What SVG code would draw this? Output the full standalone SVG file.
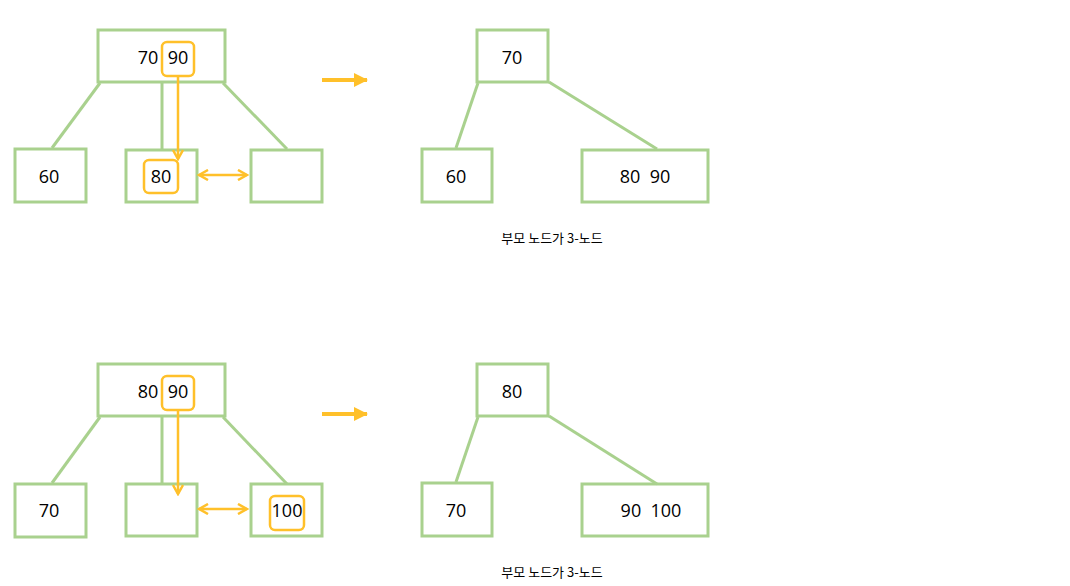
<svg xmlns="http://www.w3.org/2000/svg" width="1070" height="586" viewBox="0 0 1070 586">
<style>
.n{fill:#fff;stroke:#A9D18E;stroke-width:3}
.e{stroke:#A9D18E;stroke-width:3;fill:none}
.h{fill:none;stroke:#FFC02A;stroke-width:2.5}
.o{stroke:#FFC02A;stroke-width:2.5;fill:none}
.t{font-family:"Open Sans","Liberation Sans",sans-serif;font-size:18px;fill:#000;text-anchor:middle}
.c{font-family:"Noto Sans CJK KR","Noto Sans",sans-serif;font-size:13px;fill:#000;text-anchor:middle}
</style>
<defs>
<marker id="a" markerWidth="12" markerHeight="12" refX="10" refY="6" orient="auto" markerUnits="userSpaceOnUse"><path d="M1,1 L10,6 L1,11" fill="none" stroke="#FFC02A" stroke-width="2.5"/></marker>
<marker id="as" markerWidth="12" markerHeight="12" refX="2" refY="6" orient="auto" markerUnits="userSpaceOnUse"><path d="M11,1 L2,6 L11,11" fill="none" stroke="#FFC02A" stroke-width="2.5"/></marker>
<marker id="big" markerWidth="14" markerHeight="14" refX="13" refY="7" orient="auto" markerUnits="userSpaceOnUse"><path d="M0,0 L14,7 L0,14 Z" fill="#FFC02A"/></marker>
</defs>

<g id="top-root"><rect class="n" x="98" y="30" width="127" height="52"/><text class="t" x="148" y="64">70</text><rect class="h" x="162" y="42" width="32" height="34" rx="5"/><text class="t" x="178" y="64">90</text></g>
<g id="top-left"><rect class="n" x="15" y="149" width="71" height="53"/><text class="t" x="49" y="183">60</text></g>
<g id="top-mid"><rect class="n" x="126" y="150" width="71" height="52"/><rect class="h" x="144" y="160" width="34" height="33" rx="5"/><text class="t" x="161" y="183">80</text></g>
<g id="top-right"><rect class="n" x="251" y="150" width="71" height="52"/></g>
<g id="top-res-root"><rect class="n" x="477" y="30" width="71" height="52"/><text class="t" x="512" y="64">70</text></g>
<g id="top-res-left"><rect class="n" x="422" y="149" width="70" height="53"/><text class="t" x="456" y="183">60</text></g>
<g id="top-res-right"><rect class="n" x="582" y="150" width="126" height="52"/><text class="t" x="645" y="183" xml:space="preserve">80  90</text></g>
<text class="c" x="552" y="243">부모 노드가 3-노드</text>

<g id="bot-root"><rect class="n" x="98" y="364" width="127" height="52"/><text class="t" x="148" y="398">80</text><rect class="h" x="162" y="376" width="32" height="34" rx="5"/><text class="t" x="178" y="398">90</text></g>
<g id="bot-left"><rect class="n" x="15" y="484" width="71" height="53"/><text class="t" x="49" y="517">70</text></g>
<g id="bot-mid"><rect class="n" x="126" y="484" width="71" height="52"/></g>
<g id="bot-right"><rect class="n" x="251" y="484" width="71" height="52"/><rect class="h" x="270" y="496" width="34" height="34" rx="5"/><text class="t" x="287" y="517">100</text></g>
<g id="bot-res-root"><rect class="n" x="477" y="364" width="71" height="52"/><text class="t" x="512" y="398">80</text></g>
<g id="bot-res-left"><rect class="n" x="422" y="483" width="70" height="53"/><text class="t" x="456" y="517">70</text></g>
<g id="bot-res-right"><rect class="n" x="582" y="484" width="126" height="52"/><text class="t" x="651" y="517" xml:space="preserve">90  100</text></g>
<text class="c" x="552" y="577">부모 노드가 3-노드</text>

<g id="connectors">
<line class="e" x1="100" y1="83" x2="52" y2="148"/>
<line class="e" x1="162" y1="83" x2="162" y2="149"/>
<line class="e" x1="223" y1="83" x2="287" y2="149"/>
<line class="e" x1="478" y1="83" x2="456" y2="148"/>
<line class="e" x1="549" y1="82" x2="657" y2="149"/>
<line class="e" x1="100" y1="417" x2="52" y2="483"/>
<line class="e" x1="162" y1="417" x2="162" y2="484"/>
<line class="e" x1="223" y1="417" x2="287" y2="484"/>
<line class="e" x1="478" y1="417" x2="456" y2="482"/>
<line class="e" x1="549" y1="416" x2="657" y2="484"/>
<line class="o" x1="178" y1="76" x2="178" y2="159" marker-end="url(#a)"/>
<line class="o" x1="199" y1="175" x2="247" y2="175" marker-start="url(#as)" marker-end="url(#a)"/>
<line class="o" x1="178" y1="410" x2="178" y2="494" marker-end="url(#a)"/>
<line class="o" x1="199" y1="509" x2="247" y2="509" marker-start="url(#as)" marker-end="url(#a)"/>
<line x1="322" y1="80" x2="367" y2="80" stroke="#FFC02A" stroke-width="4" marker-end="url(#big)"/>
<line x1="322" y1="414" x2="367" y2="414" stroke="#FFC02A" stroke-width="4" marker-end="url(#big)"/>
</g>
</svg>
